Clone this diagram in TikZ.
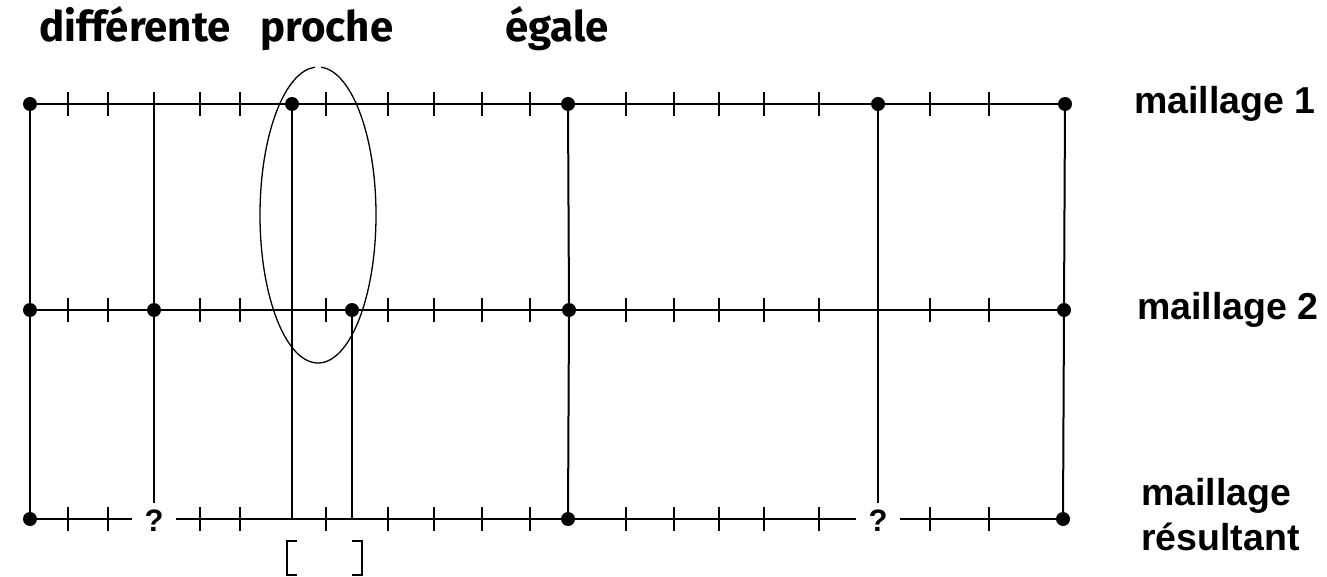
\documentclass[tikz,border=0pt]{standalone}
\usepackage{fontspec}
\setmainfont{Liberation Sans}
\newfontfamily\handfont{Fira Sans}
\usetikzlibrary{calc}
\tikzset{dot/.style={circle,fill=black,inner sep=0pt,minimum size=14pt},meshline/.style={line width=2pt},tickmark/.style={line width=2pt},qmark/.style={inner sep=0pt,minimum width=44pt,minimum height=36pt,font=\bfseries\fontsize{31}{31}\selectfont},lbl/.style={font=\bfseries\fontsize{37.5}{40}\selectfont,anchor=base west,inner sep=0pt},toplbl/.style={font=\handfont\bfseries\fontsize{42}{42}\selectfont,anchor=base,inner sep=0pt},zone/.style={line width=1.3pt}}

\begin{document}
\begin{tikzpicture}[x=1pt,y=-1pt]
\useasboundingbox (0,0) rectangle (1327,577);
\node[toplbl] (diff) at (135,42) {différente};
\node[toplbl] (proche) at (327,42) {proche};
\node[toplbl] (egale) at (557,42) {égale};
\node[dot] (m1a) at (30,104) {};
\node[dot] (m1b) at (292,104) {};
\node[dot] (m1c) at (568,104) {};
\node[dot] (m1d) at (878,104) {};
\node[dot] (m1e) at (1065,104) {};
\node[dot] (m2a) at (30,310) {};
\node[dot] (m2b) at (154,310) {};
\node[dot] (m2c) at (352,310) {};
\node[dot] (m2d) at (569,310) {};
\node[dot] (m2e) at (1064,310) {};
\node[dot] (r1) at (30,519) {};
\node[qmark] (q1) at (154,521) {?};
\node[dot] (r2) at (568,519) {};
\node[qmark] (q2) at (878,521) {?};
\node[dot] (r3) at (1063,519) {};
\coordinate (t1) at (154,92);
\coordinate (f1) at (292,519);
\coordinate (f2) at (352,519);
\node[lbl] (lab1) at (1134,114) {maillage 1};
\node[lbl] (lab2) at (1137,319) {maillage 2};
\node[lbl] (lab3) at (1141,505) {maillage};
\node[lbl] (lab4) at (1141,550) {résultant};
\draw[meshline] (m1a) -- (m1b) -- (m1c) -- (m1d) -- (m1e);
\draw[meshline] (m2a) -- (m2b) -- (m2c) -- (m2d) -- (m2e);
\draw[meshline] (r1) -- (q1.west |- r1) (q1.east |- r1) -- (r2) -- (q2.west |- r2) (q2.east |- r2) -- (r3);
\draw[meshline] (m1a) -- (m2a) -- (r1);
\draw[meshline] (t1) -- (m2b) -- (q1);
\draw[meshline] (m1b) -- (f1);
\draw[meshline] (m2c) -- (f2);
\draw[meshline] (m1c) -- (m2d) -- (r2);
\draw[meshline] (m1d) -- (q2);
\draw[meshline] (m1e) -- (m2e) -- (r3);
\foreach \y in {104,310,519}
  \foreach \x in {68,108,200,240,326,388,434,482,530,626,674,719,764,819,930,989}
    \draw[tickmark] (\x,\y-12) -- (\x,\y+12);
\draw[tickmark] (154,92) -- (154,116);
\draw[zone] ([shift={(273:58 and 148)}]318,215) arc[start angle=273,end angle=627,x radius=58,y radius=148];
\draw[meshline] (297,541) -| (287,575) -- (297,575);
\draw[meshline] (352,541) -| (362,575) -- (352,575);
\end{tikzpicture}
\end{document}
